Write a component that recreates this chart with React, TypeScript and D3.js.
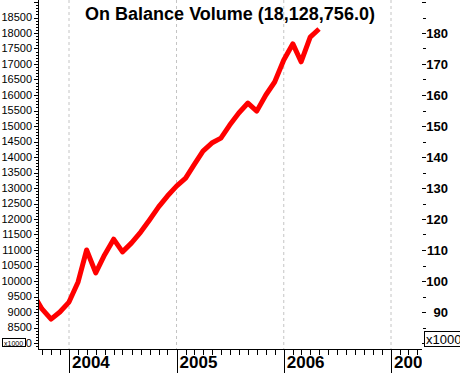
import * as d3 from 'd3';

// monthly OBV, in thousands
const months = [
  '2003-09', '2003-10', '2003-11', '2003-12',
  '2004-01', '2004-02', '2004-03', '2004-04', '2004-05', '2004-06',
  '2004-07', '2004-08', '2004-09', '2004-10', '2004-11', '2004-12',
  '2005-01', '2005-02', '2005-03', '2005-04', '2005-05', '2005-06',
  '2005-07', '2005-08', '2005-09', '2005-10', '2005-11', '2005-12',
  '2006-01', '2006-02', '2006-03', '2006-04', '2006-05',
];
const obv = [
  9580, 9100, 8770, 9000,
  9320, 9970, 11000, 10260, 10840, 11350,
  10940, 11230, 11580, 11970, 12390, 12740,
  13060, 13320, 13740, 14190, 14450, 14610,
  15030, 15420, 15740, 15480, 16000, 16420,
  17130, 17650, 17070, 17870, 18128.756,
];
const yearLabels = ['2004', '2005', '2006', '2007'];
const leftLabels = [8000, 8500, 9000, 9500, 10000, 10500, 11000, 11500, 12000, 12500, 13000,
  13500, 14000, 14500, 15000, 15500, 16000, 16500, 17000, 17500, 18000, 18500];
const rightLabels = [90, 100, 110, 120, 130, 140, 150, 160, 170, 180];

const W = 460;
const H = 373;
const axisX = 38;
const axisY = 349;
const plotRight = 422;

export default function App() {
  const parse = d3.timeParse('%Y-%m');
  const data = months.map((m, i) => ({ date: parse(m) as Date, value: obv[i] }));

  const x = d3.scaleTime()
    .domain([new Date(2004, 0, 1), new Date(2007, 0, 1)])
    .range([69, 391]);
  const y = d3.scaleLinear().domain([8500, 18500]).range([327.5, 17.5]);

  const line = d3.line<{ date: Date; value: number }>()
    .x(d => x(d.date))
    .y(d => y(d.value));

  const monthTicks = d3.timeMonth.range(new Date(2003, 8, 1), new Date(2007, 4, 1))
    .filter(d => x(d) >= axisX && x(d) <= plotRight);
  const yearTicks = yearLabels.map(s => new Date(+s, 0, 1));

  const leftTicks = d3.range(7800, 19100, 100).filter(v => y(v) >= 0 && y(v) <= axisY);
  const rightTicks = d3.range(80, 195, 5).filter(v => y(v * 100) >= 0 && y(v * 100) <= axisY);

  return (
    <svg width={W} height={H} style={{ position: 'absolute', left: 0, top: 0, background: '#fff' }}
      fontFamily="Arial, 'Liberation Sans', sans-serif">
      <defs>
        <clipPath id="plot">
          <rect x={axisX} y={0} width={plotRight - axisX} height={axisY} />
        </clipPath>
        <clipPath id="xlab">
          <rect x={0} y={axisY} width={plotRight} height={H - axisY} />
        </clipPath>
      </defs>

      {/* vertical year grid */}
      {yearTicks.map((d, i) => (
        <line key={i} x1={x(d)} x2={x(d)} y1={0} y2={axisY}
          stroke="#c4c4c4" strokeDasharray="3,3" />
      ))}

      <text x={230} y={20} textAnchor="middle" fontSize={18} fontWeight="bold" fill="#000">
        On Balance Volume (18,128,756.0)
      </text>

      {/* OBV line */}
      <path d={line(data) ?? ''} fill="none" stroke="#ff0000" strokeWidth={5}
        strokeLinejoin="round" clipPath="url(#plot)" />

      {/* left axis */}
      <line x1={axisX + 0.5} x2={axisX + 0.5} y1={0} y2={axisY} stroke="#000" />
      {leftTicks.map(v => {
        const major = v % 500 === 0;
        const yy = Math.round(y(v)) + 0.5;
        return <line key={v} x1={axisX - (major ? 4 : 2)} x2={axisX} y1={yy} y2={yy} stroke="#000" />;
      })}
      {leftLabels.map(v => (
        <text key={v} x={32} y={y(v)} dy="0.35em" textAnchor="end" fontSize={11} fill="#000">
          {v}
        </text>
      ))}
      <rect x={2.5} y={338.5} width={23} height={8} fill="#fff" stroke="#000" />
      <text x={4} y={345.5} fontSize={7} fill="#000">x1000</text>

      {/* right axis */}
      {rightTicks.map(v => {
        const major = v % 10 === 0;
        const yy = Math.round(y(v * 100)) + 0.5;
        return <line key={v} x1={major ? 422 : 423} x2={426} y1={yy} y2={yy} stroke="#000" />;
      })}
      {rightLabels.map(v => (
        <text key={v} x={448} y={y(v * 100)} dy="0.36em" textAnchor="end" fontSize={13}
          fontWeight="bold" fill="#000">
          {v}
        </text>
      ))}
      <rect x={424.5} y={331.5} width={40} height={15} fill="#fff" stroke="#000" />
      <text x={426} y={344} fontSize={13} fill="#000">x1000</text>

      {/* bottom axis */}
      <line x1={axisX} x2={plotRight} y1={axisY + 0.5} y2={axisY + 0.5} stroke="#000" />
      {monthTicks.map((d, i) => {
        const xx = Math.round(x(d)) + 0.5;
        const isYear = d.getMonth() === 0;
        return <line key={i} x1={xx} x2={xx} y1={axisY} y2={isYear ? H : axisY + 6} stroke="#000" />;
      })}
      <g clipPath="url(#xlab)">
        {yearTicks.map((d, i) => (
          <text key={i} x={x(d) + 3} y={368} fontSize={17} fontWeight="bold" fill="#000">
            {yearLabels[i]}
          </text>
        ))}
      </g>
    </svg>
  );
}
